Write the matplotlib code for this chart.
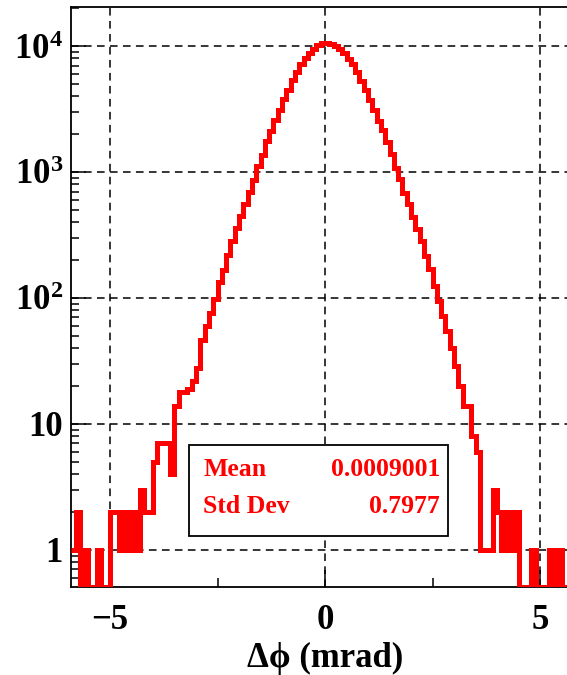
import matplotlib
matplotlib.use("Agg")
import matplotlib.pyplot as plt
import numpy as np
from matplotlib.patches import Rectangle
from matplotlib.ticker import FixedLocator, FuncFormatter, LogLocator, NullFormatter

# histogram of delta phi, 0.1 mrad bins starting at -5.9 mrad
X_START = -5.9
BIN_WIDTH = 0.1

left_tail = [1, 2, 0, 1, 0, 0, 1, 0, 0, 2,
             2, 1, 2, 1, 2, 1, 3, 2, 2, 5,
             7, 7, 7, 4, 14, 18, 18, 19, 22, 28]
left_core = [46, 60, 76, 98, 135, 168, 218, 282, 360, 445,
             560, 690, 870, 1110, 1370, 1750, 2120, 2600, 3080, 3820,
             4450, 5400, 6200, 7150, 7980, 8850, 9500, 10100, 10480]
right_side = [10650, 10400, 10050, 9450, 8850, 7950, 7150, 6250, 5300, 4500,
              3750, 3100, 2550, 2150, 1720, 1400, 1080, 880, 680, 560,
              440, 350, 285, 215, 170, 125, 95, 72, 55, 40,
              29, 20, 14, 14, 8, 6, 1, 1, 1, 3,
              2, 1, 2, 1, 2, 0, 0, 0, 1, 0,
              0, 0, 1, 0, 1, 0, 0, 0, 0]
counts = np.array(left_tail + left_core + right_side, dtype=float)

stat_names = ["Mean", "Std Dev"]
stat_values = ["0.0009001", "0.7977"]

x_ticks = [-5, 0, 5]
x_minor = [-2.5, 2.5]
y_range = (0.508, 20400)
x_range = (-5.9, 5.9)

W, H = 567, 675


def px(x, y):
    """pixel position (from top-left) to figure fraction"""
    return x / W, 1 - y / H


def y_label(v, pos):
    e = int(round(np.log10(v)))
    if e == 0:
        return "1"
    if e == 1:
        return "10"
    return r"$\mathbf{10^{%d}}$" % e


def main():
    plt.rcParams["font.family"] = ["Liberation Serif", "DejaVu Serif"]
    plt.rcParams["font.weight"] = "bold"
    plt.rcParams["mathtext.fontset"] = "custom"
    plt.rcParams["mathtext.rm"] = "Liberation Serif:bold"
    plt.rcParams["mathtext.bf"] = "Liberation Serif:bold"

    fig = plt.figure(figsize=(W / 100, H / 100), dpi=100)
    x0, y0 = px(71.3, 587)
    x1, y1 = px(578.7, 7)
    ax = fig.add_axes([x0, y0, x1 - x0, y1 - y0])

    edges = X_START + BIN_WIDTH * np.arange(len(counts) + 1)
    shown = np.maximum(counts, y_range[0])
    ax.stairs(shown, edges, baseline=None, color="#ff0000", lw=3.6, zorder=3)

    ax.set_yscale("log")
    ax.set_ylim(*y_range)
    ax.set_xlim(*x_range)

    ax.xaxis.set_major_locator(FixedLocator(x_ticks))
    ax.xaxis.set_minor_locator(FixedLocator(x_minor))
    ax.yaxis.set_major_locator(LogLocator(base=10, subs=(1.0,), numticks=10))
    ax.yaxis.set_minor_locator(LogLocator(base=10, subs=np.arange(2, 10), numticks=20))
    ax.yaxis.set_major_formatter(FuncFormatter(y_label))
    ax.yaxis.set_minor_formatter(NullFormatter())

    ax.grid(True, which="major", color="black", lw=1.1, ls=(0, (5, 3.5)), zorder=1)
    ax.set_axisbelow(True)

    ax.tick_params(which="both", direction="in", top=False, right=False,
                   width=1.1, labelsize=25)
    ax.xaxis.set_tick_params(which="major", length=12, pad=12)
    ax.xaxis.set_tick_params(which="minor", length=6.5)
    ax.yaxis.set_tick_params(which="major", length=10.8, pad=6)
    ax.yaxis.set_tick_params(which="minor", length=5.8)
    for s in ax.spines.values():
        s.set_linewidth(1.3)

    ax.set_xlabel("\u0394\u03d5 (mrad)", fontsize=25, fontweight="bold", labelpad=4)

    # stats box
    bx0, by0 = px(189, 536)
    bx1, by1 = px(448, 445)
    fig.add_artist(Rectangle((bx0, by0), bx1 - bx0, by1 - by0, transform=fig.transFigure,
                             facecolor="white", edgecolor="black", lw=1.3, zorder=5))
    for i, (name, val) in enumerate(zip(stat_names, stat_values)):
        base = 476 + 37 * i
        fig.text(*px(203, base), name, color="#ff0000", fontsize=18.5,
                 fontweight="bold", va="baseline", ha="left", zorder=6)
        fig.text(*px(440, base), val, color="#ff0000", fontsize=18.5,
                 fontweight="bold", va="baseline", ha="right", zorder=6)

    fig.savefig("out.png", dpi=100)


if __name__ == "__main__":
    main()
